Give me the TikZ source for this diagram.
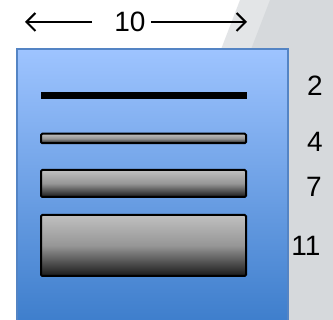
\documentclass[tikz,border=0pt]{standalone}
\usepackage{fontspec}
\setmainfont{Liberation Sans}
\usetikzlibrary{arrows.meta}
\definecolor{bgwhite}{RGB}{255,255,255}
\definecolor{graylight}{RGB}{227,229,231}
\definecolor{graydark}{RGB}{214,217,220}
\definecolor{bluetop}{RGB}{158,196,255}
\definecolor{bluebot}{RGB}{62,126,204}
\definecolor{blueedge}{RGB}{84,132,196}
\definecolor{bartop}{RGB}{192,192,192}
\definecolor{barmid}{RGB}{150,150,150}
\definecolor{barbot}{RGB}{25,25,25}
\tikzset{
  num/.style={font=\fontsize{28}{32}\selectfont, inner sep=0pt, text=black},
  barbox/.style={draw=black, line width=2pt, rounded corners=1.2pt,
    top color=bartop, bottom color=barbot, middle color=barmid,
    minimum width=205pt, inner sep=0pt, outer sep=0pt},
  dimarrow/.style={line width=2pt, -{Straight Barb[length=9pt,width=18pt,line width=2pt]}}
}
\begin{document}
\begin{tikzpicture}[x=1pt,y=-1pt]
\useasboundingbox (0,0) rectangle (333,320);
\fill[bgwhite] (0,0) rectangle (333,320);
\fill[graylight] (240,0) -- (333,0) -- (333,320) -- (117,320) -- cycle;
\fill[graydark] (270,0) -- (333,0) -- (333,320) -- (147,320) -- cycle;
% blue panel
\shade[top color=bluetop, bottom color=bluebot] (17,49) rectangle (288,322);
\draw[blueedge, line width=1.5pt] (17,322) -- (17,49) -- (288,49) -- (288,322);
% bars
\node[draw=black, fill=black, minimum width=205pt, minimum height=6.5pt, inner sep=0pt] (b1) at (143.5,95.2) {};
\node[barbox, minimum height=9.5pt] (b2) at (143.5,138.5) {};
\node[barbox, minimum height=27pt] (b3) at (143.5,183.5) {};
\node[barbox, minimum height=61pt] (b4) at (143.5,245.5) {};
% labels
\node[num] (l2) at (315,86) {2};
\node[num] (l4) at (315,142) {4};
\node[num] (l7) at (314,187) {7};
\node[num] (l11) at (306,246) {11};
% dimension
\node[num] (ten) at (130,21.5) {10};
\coordinate (la) at (25,22);
\coordinate (ra) at (247,22);
\draw[dimarrow] ([xshift=-22pt]ten.west |- la) -- (la);
\draw[dimarrow] ([xshift=5pt]ten.east |- ra) -- (ra);
\end{tikzpicture}
\end{document}
